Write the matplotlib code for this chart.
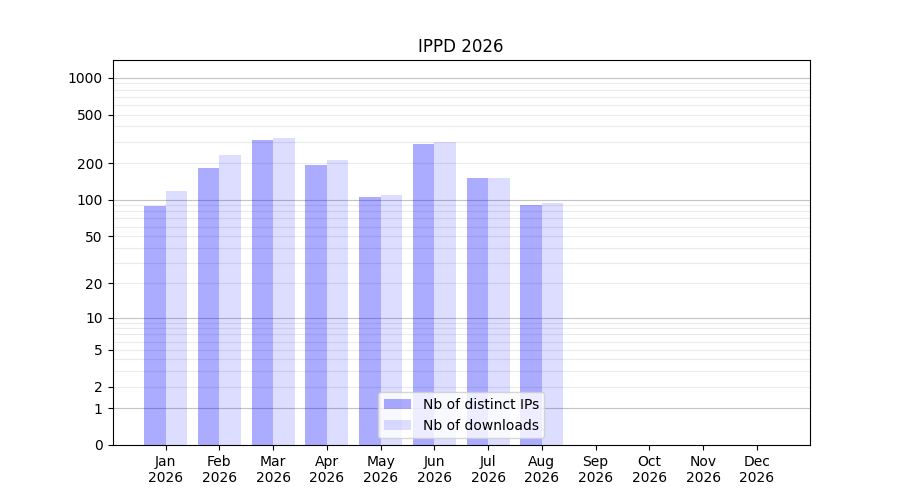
import numpy as np
import matplotlib
matplotlib.use('Agg')
import matplotlib.pyplot as plt

months = ['Jan', 'Feb', 'Mar', 'Apr', 'May', 'Jun', 'Jul', 'Aug', 'Sep', 'Oct', 'Nov', 'Dec']
year = '2026'
distinct_ips = [88, 184, 312, 192, 106, 290, 152, 91, 0, 0, 0, 0]
downloads = [117, 235, 324, 214, 110, 297, 152, 94, 0, 0, 0, 0]
ytick_vals = [0, 1, 2, 5, 10, 20, 50, 100, 200, 500, 1000]

x = np.arange(len(months))
w = 0.4

fig, ax = plt.subplots(figsize=(9, 5), dpi=100)
ax.set_yscale('function', functions=(lambda v: np.log10(1 + np.clip(v, 0, None)),
                                     lambda v: 10 ** v - 1))

# grid: decades darker, in-between lighter
for d in [1, 10, 100]:
    for k in range(2, 10):
        ax.axhline(d * k, color='#ebebeb', lw=0.8, zorder=0)
for d in [1, 10, 100, 1000]:
    ax.axhline(d, color='#c4c4c4', lw=0.8, zorder=0)

ax.bar(x - w / 2, distinct_ips, w, color='blue', alpha=0.33, label='Nb of distinct IPs', zorder=2)
ax.bar(x + w / 2, downloads, w, color='blue', alpha=0.135, label='Nb of downloads', zorder=2)

ax.set_ylim(0, 1400)
ax.set_yticks(ytick_vals)
ax.set_yticklabels([str(v) for v in ytick_vals])
ax.yaxis.set_minor_locator(matplotlib.ticker.NullLocator())
ax.set_xticks(x)
ax.set_xticklabels([m + '\n' + year for m in months])
ax.set_title('IPPD 2026')
ax.legend(loc='lower center')

fig.savefig('out.png')
